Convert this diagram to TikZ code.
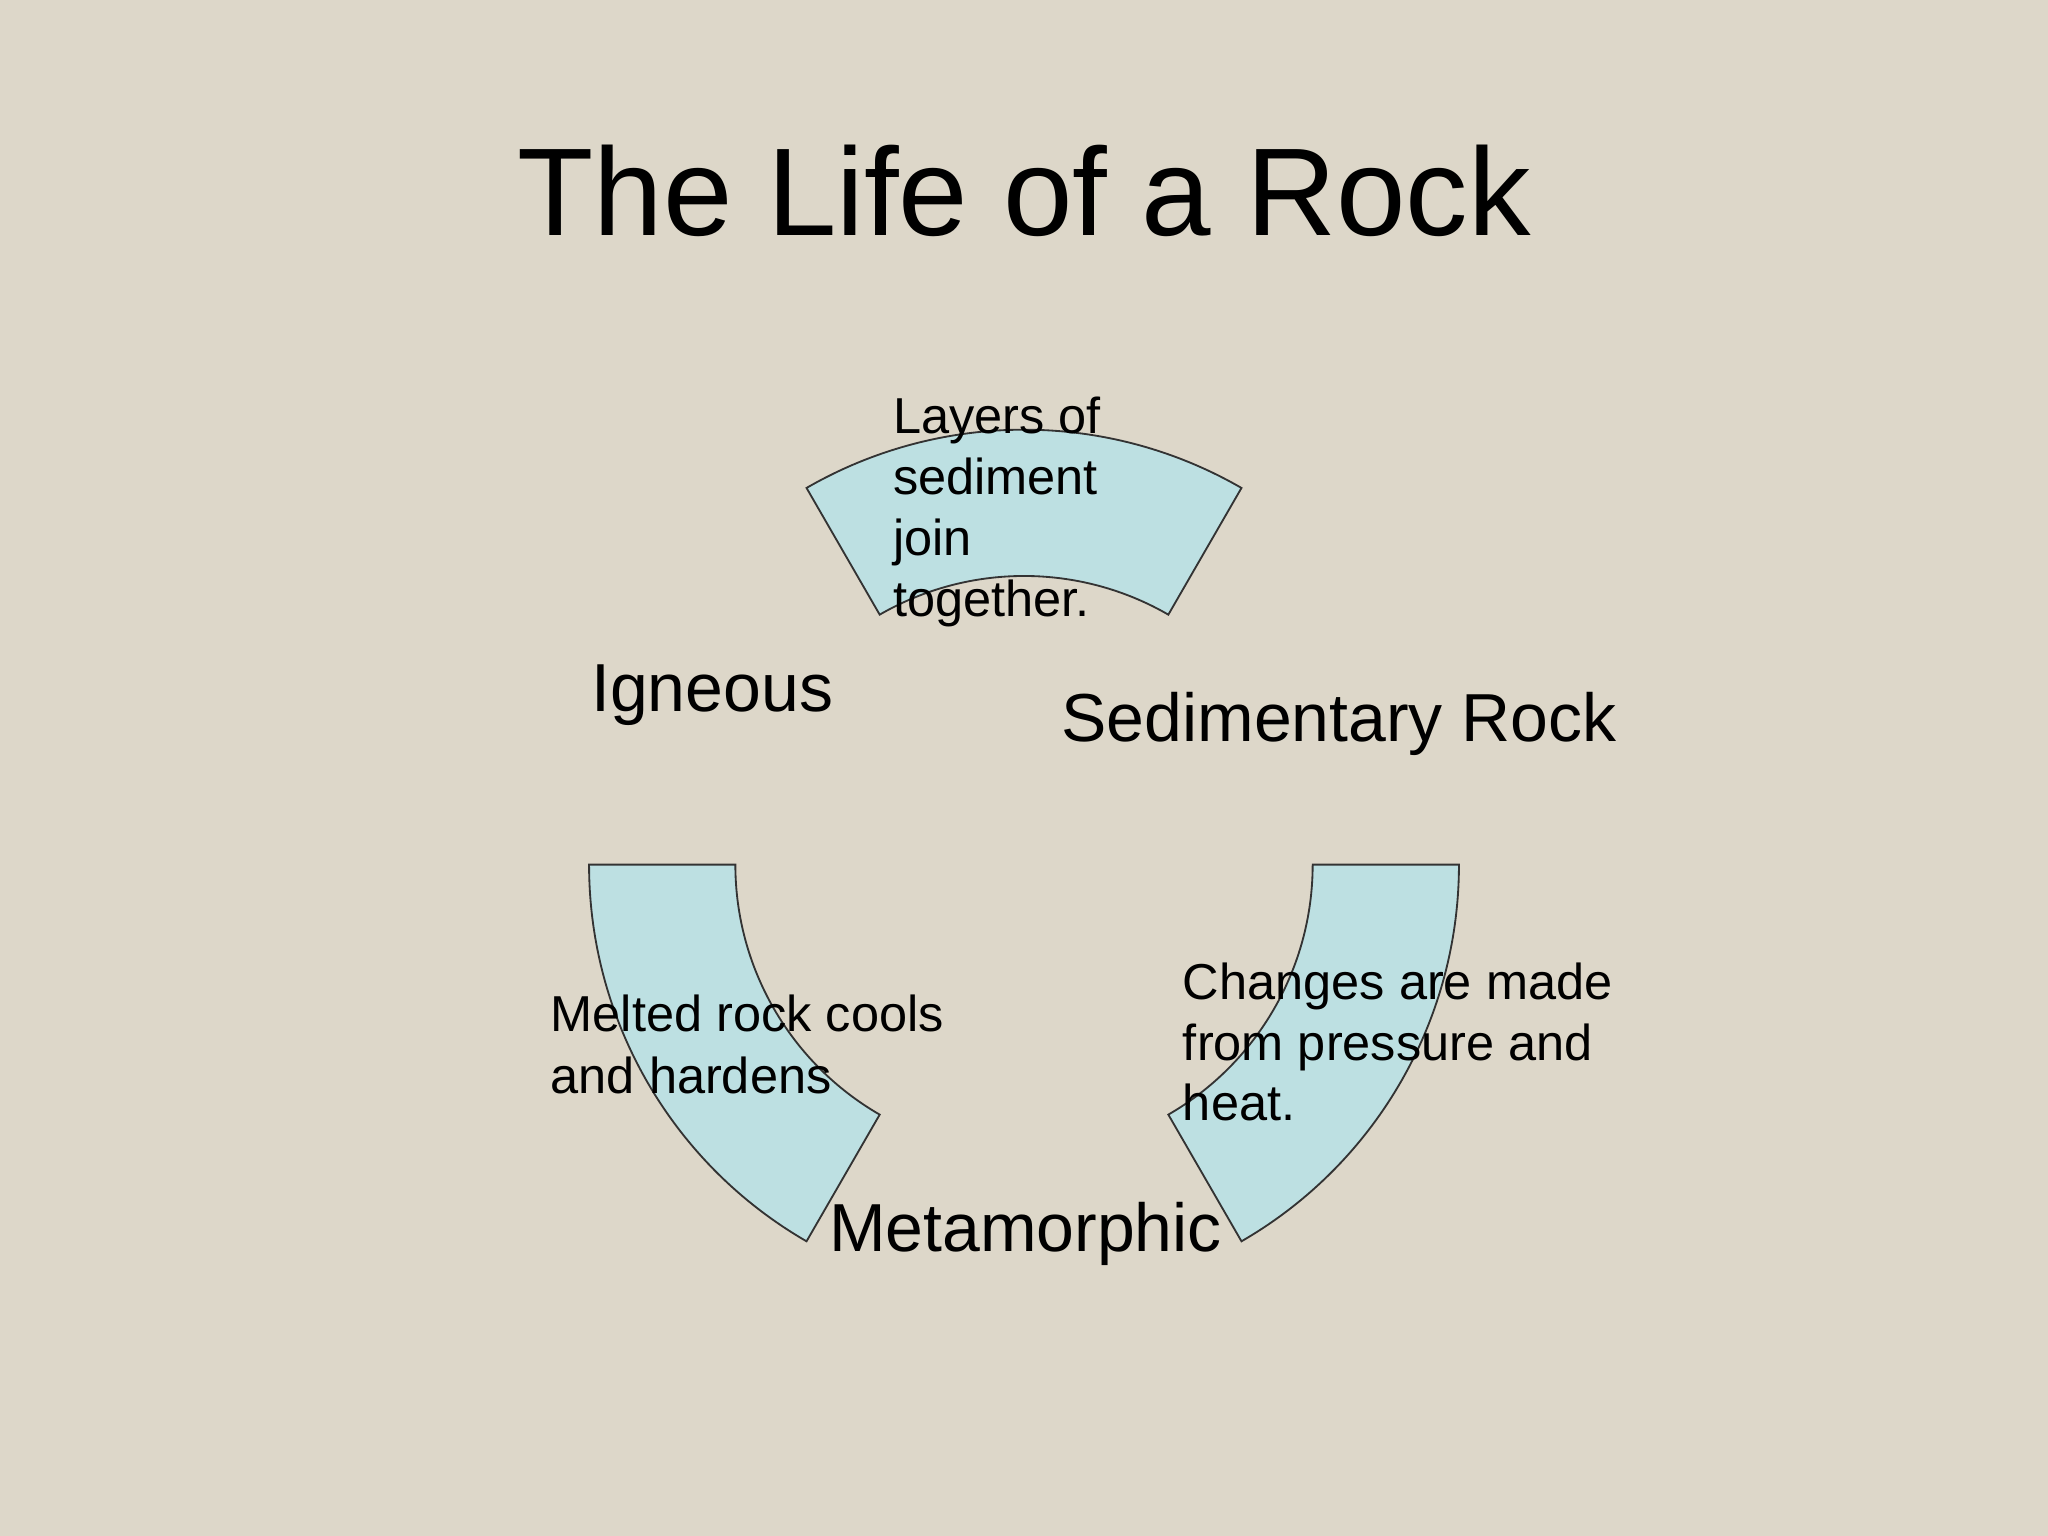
\documentclass[tikz,border=0pt]{standalone}
\usepackage{fontspec}
\setmainfont{Liberation Sans}
\definecolor{bg}{HTML}{DDD7C9}
\definecolor{seg}{HTML}{BDE0E2}
\tikzset{segment/.style={fill=seg,draw=black!80,line width=0.4pt},
  smalltxt/.style={anchor=base west,font=\fontsize{11}{13.4}\selectfont,inner sep=0pt},
  midtxt/.style={anchor=base west,font=\fontsize{14.8}{18}\selectfont,inner sep=0pt}}
\begin{document}
\begin{tikzpicture}
\fill[bg] (0,0) rectangle (15.68,11.76);
\useasboundingbox (0,0) rectangle (15.68,11.76);
\begin{scope}[shift={(7.84,5.14)}]
\draw[segment] (60:3.33) arc[start angle=60,end angle=120,radius=3.33] -- (120:2.21) arc[start angle=120,end angle=60,radius=2.21] -- cycle;
\draw[segment] (180:3.33) arc[start angle=180,end angle=240,radius=3.33] -- (240:2.21) arc[start angle=240,end angle=180,radius=2.21] -- cycle;
\draw[segment] (0:3.33) arc[start angle=0,end angle=-60,radius=3.33] -- (-60:2.21) arc[start angle=-60,end angle=0,radius=2.21] -- cycle;
\end{scope}
\node[font=\fontsize{27.2}{32}\selectfont,inner sep=0pt,anchor=base] (title) at (7.84,11.76-1.80) {The Life of a Rock};
\node[smalltxt] (l1) at (6.83,11.76-3.32) {Layers of};
\node[smalltxt] (l2) at (6.83,11.76-3.79) {sediment};
\node[smalltxt] (l3) at (6.83,11.76-4.25) {join};
\node[smalltxt] (l4) at (6.83,11.76-4.72) {together.};
\node[smalltxt] (m1) at (4.21,11.76-7.90) {Melted rock cools};
\node[smalltxt] (m2) at (4.21,11.76-8.37) {and hardens};
\node[smalltxt] (c1) at (9.05,11.76-7.65) {Changes are made};
\node[smalltxt] (c2) at (9.05,11.76-8.12) {from pressure and};
\node[smalltxt] (c3) at (9.05,11.76-8.58) {heat.};
\node[midtxt] (ign) at (4.52,11.76-5.45) {Igneous};
\node[midtxt] (sed) at (8.12,11.76-5.68) {Sedimentary Rock};
\node[midtxt] (met) at (6.34,11.76-9.58) {Metamorphic};
\end{tikzpicture}
\end{document}
